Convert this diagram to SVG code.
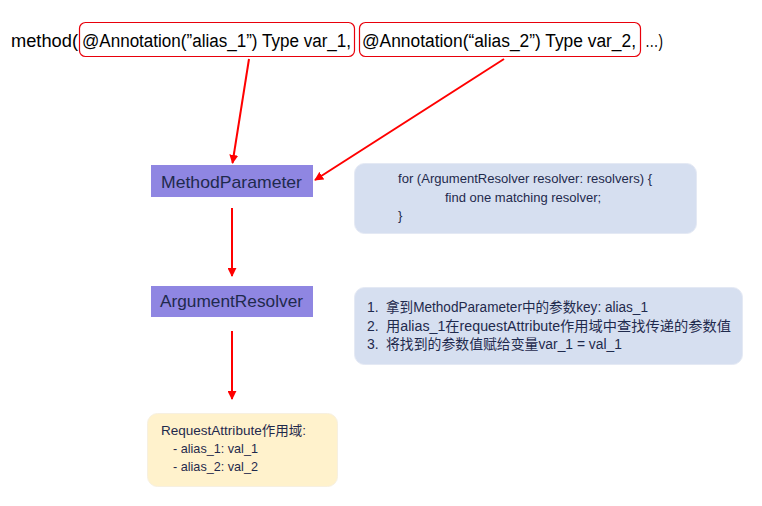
<svg xmlns="http://www.w3.org/2000/svg" width="762" height="506" viewBox="0 0 762 506">
<style>
.t{font-family:"Liberation Sans","Noto Sans CJK SC",sans-serif;fill:#000}
.n{font-family:"Liberation Sans","Noto Sans CJK SC",sans-serif;fill:#1F2A4D}
.rb{fill:none;stroke:#E8000B;stroke-width:1.2}
.pb{fill:#8F86E2}
.bb{fill:#D6DFF0;stroke:#E4E9F4;stroke-width:1}
.yb{fill:#FFF2CC;stroke:#F7F0E0;stroke-width:1}
.c{stroke:#FF0000;stroke-width:2;fill:none;marker-end:url(#ah)}
</style>
<defs>
<marker id="ah" viewBox="0 0 10 10" refX="9" refY="5" markerWidth="4.5" markerHeight="4.5" orient="auto" markerUnits="strokeWidth">
<path d="M0,0 L10,5 L0,10 Z" fill="#FF0000"/>
</marker>
</defs>
<rect width="762" height="506" fill="#FFFFFF"/>
<g id="signature">
<rect class="rb" x="79.5" y="22.5" width="275" height="34" rx="6"/>
<rect class="rb" x="359.5" y="22.5" width="281" height="34" rx="6"/>
<text class="t" font-size="18" x="11" y="47" textLength="67" lengthAdjust="spacingAndGlyphs">method(</text>
<text class="t" font-size="18" x="82" y="47" textLength="269" lengthAdjust="spacingAndGlyphs">@Annotation(”alias_1”) Type var_1,</text>
<text class="t" font-size="18" x="362" y="47" textLength="274" lengthAdjust="spacingAndGlyphs">@Annotation(“alias_2”) Type var_2,</text>
<text class="t" font-size="18" x="645" y="47" textLength="18" lengthAdjust="spacingAndGlyphs">…)</text>
</g>
<g id="connectors">
<line class="c" x1="249" y1="59" x2="232.5" y2="163"/>
<line class="c" x1="504" y1="59" x2="315" y2="180"/>
<line class="c" x1="232" y1="208" x2="232" y2="276"/>
<line class="c" x1="232" y1="331" x2="232" y2="399"/>
</g>
<g id="methodParameter">
<rect class="pb" x="151" y="165" width="162" height="32"/>
<text class="n" font-size="17" x="161" y="188" textLength="141" lengthAdjust="spacingAndGlyphs">MethodParameter</text>
</g>
<g id="argumentResolver">
<rect class="pb" x="151" y="286" width="162" height="31"/>
<text class="n" font-size="17" x="160" y="307" textLength="143" lengthAdjust="spacingAndGlyphs">ArgumentResolver</text>
</g>
<g id="loopNote">
<rect class="bb" x="354.5" y="163.5" width="342" height="70" rx="10"/>
<text class="n" font-size="13" x="398" y="183" textLength="254" lengthAdjust="spacingAndGlyphs">for (ArgumentResolver resolver: resolvers) {</text>
<text class="n" font-size="13" x="445" y="202">find one matching resolver;</text>
<text class="n" font-size="13" x="398" y="220">}</text>
</g>
<g id="stepsNote">
<rect class="bb" x="354.5" y="287.5" width="388" height="77" rx="10"/>
<text class="n" font-size="14" x="367" y="312">1.</text>
<text class="n" font-size="14" x="367" y="331">2.</text>
<text class="n" font-size="14" x="367" y="349">3.</text>
<text class="n" font-size="14" x="386" y="312" textLength="262" lengthAdjust="spacingAndGlyphs">拿到MethodParameter中的参数key: alias_1</text>
<text class="n" font-size="14" x="386" y="331" textLength="345" lengthAdjust="spacingAndGlyphs">用alias_1在requestAttribute作用域中查找传递的参数值</text>
<text class="n" font-size="14" x="386" y="349" textLength="236" lengthAdjust="spacingAndGlyphs">将找到的参数值赋给变量var_1 = val_1</text>
</g>
<g id="requestAttribute">
<rect class="yb" x="147.5" y="413.5" width="190" height="73" rx="10"/>
<text class="n" font-size="13" x="161" y="435" textLength="145" lengthAdjust="spacingAndGlyphs">RequestAttribute作用域:</text>
<text class="n" font-size="13" x="173" y="453" textLength="85" lengthAdjust="spacingAndGlyphs">- alias_1: val_1</text>
<text class="n" font-size="13" x="173" y="471" textLength="85" lengthAdjust="spacingAndGlyphs">- alias_2: val_2</text>
</g>
</svg>
